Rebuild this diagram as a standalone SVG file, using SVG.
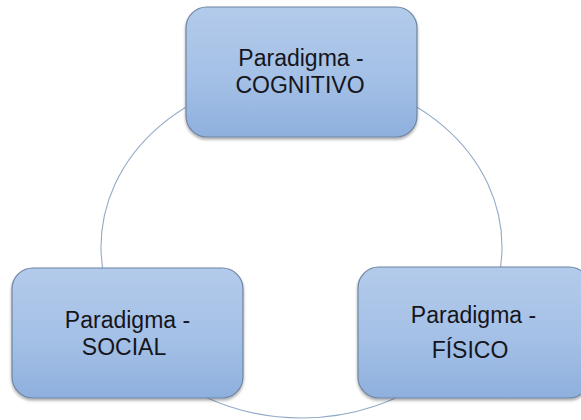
<svg xmlns="http://www.w3.org/2000/svg" width="581" height="420" viewBox="0 0 581 420">
<defs>
<linearGradient id="g" x1="0" y1="0" x2="0" y2="1">
<stop offset="0" stop-color="#b3cbeb"/>
<stop offset="0.55" stop-color="#a4c0e6"/>
<stop offset="1" stop-color="#8eb0dd"/>
</linearGradient>
<filter id="sh" x="-10%" y="-10%" width="120%" height="125%">
<feGaussianBlur in="SourceAlpha" stdDeviation="1.5"/>
<feOffset dx="0" dy="1.5" result="b"/>
<feComponentTransfer><feFuncA type="linear" slope="0.35"/></feComponentTransfer>
<feMerge><feMergeNode/><feMergeNode in="SourceGraphic"/></feMerge>
</filter>
</defs>
<style>
.box{fill:url(#g);stroke:#6f84a3;stroke-width:1.2;filter:url(#sh)}
.t{font-family:"Liberation Sans",Arial,sans-serif;font-size:23px;fill:#15151c;text-anchor:middle}
.arc{fill:none;stroke:#93aac7;stroke-width:1.1}
</style>
<rect width="581" height="420" fill="#ffffff"/>
<g id="connectors">
<ellipse class="arc" cx="301.5" cy="247" rx="200.5" ry="171"/>
</g>
<g id="cognitivo">
<rect class="box" x="186" y="7" width="231" height="130" rx="21"/>
<text class="t" x="301" y="66">Paradigma -</text>
<text class="t" x="300" y="93">COGNITIVO</text>
</g>
<g id="social">
<rect class="box" x="12" y="268" width="231" height="130" rx="21"/>
<text class="t" x="127.5" y="328">Paradigma -</text>
<text class="t" x="124" y="355">SOCIAL</text>
</g>
<g id="fisico">
<rect class="box" x="358" y="267" width="232" height="131" rx="21"/>
<text class="t" x="473.5" y="323">Paradigma -</text>
<text class="t" x="470" y="358">FÍSICO</text>
</g>
</svg>
